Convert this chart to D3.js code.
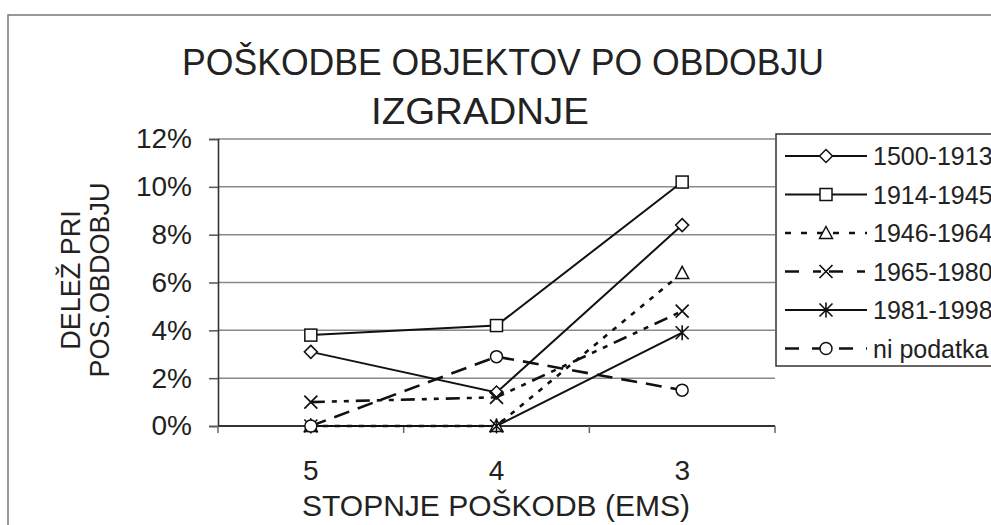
<!DOCTYPE html>
<html>
<head>
<meta charset="utf-8">
<script src="https://cdn.jsdelivr.net/npm/d3@7"></script>
<style>
  html, body { margin: 0; padding: 0; background: #fff; }
  svg { display: block; }
  text { font-family: "Liberation Sans", Arial, sans-serif; fill: #222; }
</style>
</head>
<body>
<svg id="chart" width="991" height="525"></svg>
<script>
// Damage grades (EMS) on the x axis
const categories = ["5", "4", "3"];

// Share of buildings per construction period, in percent
const s1500_1913 = [3.1, 1.4, 8.4];
const s1914_1945 = [3.8, 4.2, 10.2];
const s1946_1964 = [0, 0, 6.4];
const s1965_1980 = [1.0, 1.2, 4.8];
const s1981_1998 = [0, 0, 3.9];
const sNiPodatka = [0, 2.9, 1.5];

const seriesNames = ["1500-1913", "1914-1945", "1946-1964", "1965-1980", "1981-1998", "ni podatka"];
const yTicks = [0, 2, 4, 6, 8, 10, 12];

const titleLines = ["POŠKODBE OBJEKTOV PO OBDOBJU", "IZGRADNJE"];
const yTitleLines = ["DELEŽ PRI", "POS.OBDOBJU"];
const xTitle = "STOPNJE POŠKODB (EMS)";

const seriesValues = [s1500_1913, s1914_1945, s1946_1964, s1965_1980, s1981_1998, sNiPodatka];
const styles = [
  { dash: null, legendDash: null, marker: "diamond" },
  { dash: null, legendDash: null, marker: "square" },
  { dash: "5,7", legendDash: "6,10", marker: "triangle" },
  { dash: "14,7,5,7,5,7", legendDash: "14,14,8,8", marker: "cross" },
  { dash: null, legendDash: null, marker: "asterisk" },
  { dash: "16,9", legendDash: "14,13", marker: "circle" }
];
const series = seriesNames.map((name, i) => ({ name, values: seriesValues[i], ...styles[i] }));

const svg = d3.select("#chart");

// outer chart frame
svg.append("rect")
  .attr("x", 8).attr("y", 15).attr("width", 1100).attr("height", 600)
  .attr("fill", "none").attr("stroke", "#777").attr("stroke-width", 1.5);

const plot = { left: 218, right: 775, top: 139, bottom: 426 };

const x = d3.scalePoint().domain(categories).range([plot.left, plot.right]).padding(0.5);
const xBand = d3.scaleBand().domain(categories).range([plot.left, plot.right]);
const y = d3.scaleLinear().domain([0, 12]).range([plot.bottom, plot.top]);

// horizontal gridlines
svg.append("g").selectAll("line")
  .data(yTicks.filter(t => t > 0))
  .join("line")
  .attr("x1", plot.left).attr("x2", plot.right)
  .attr("y1", d => y(d)).attr("y2", d => y(d))
  .attr("stroke", "#8a8a8a").attr("stroke-width", 1.5);

// y axis
const yAxis = svg.append("g")
  .attr("transform", `translate(${plot.left},0)`)
  .call(d3.axisLeft(y).tickValues(yTicks).tickFormat(d => d + "%").tickSize(9).tickPadding(17));
yAxis.select(".domain").attr("stroke", "#333").attr("stroke-width", 1.6);
yAxis.selectAll(".tick line").attr("stroke", "#555").attr("stroke-width", 1.5);
yAxis.selectAll(".tick text")
  .attr("font-size", 28).attr("fill", "#222")
  .attr("font-family", "'Liberation Sans', Arial, sans-serif");

// x axis: tick marks at band boundaries, labels at category centres
const xAxisG = svg.append("g");
xAxisG.append("line")
  .attr("x1", plot.left).attr("x2", plot.right)
  .attr("y1", plot.bottom).attr("y2", plot.bottom)
  .attr("stroke", "#333").attr("stroke-width", 2);
const boundaries = categories.map(c => xBand(c)).concat([xBand.range()[1]]);
xAxisG.selectAll("line.tk")
  .data(boundaries)
  .join("line").attr("class", "tk")
  .attr("x1", d => d).attr("x2", d => d)
  .attr("y1", plot.bottom).attr("y2", plot.bottom + 7)
  .attr("stroke", "#666").attr("stroke-width", 1.5);
xAxisG.selectAll("text")
  .data(categories)
  .join("text")
  .attr("x", d => x(d)).attr("y", 480)
  .attr("text-anchor", "middle").attr("font-size", 28)
  .text(d => d);

// titles
svg.append("text").attr("x", 503).attr("y", 75).attr("text-anchor", "middle")
  .attr("font-size", 36).attr("textLength", 642).attr("lengthAdjust", "spacingAndGlyphs")
  .text(titleLines[0]);
svg.append("text").attr("x", 480).attr("y", 124).attr("text-anchor", "middle")
  .attr("font-size", 36).attr("textLength", 218).attr("lengthAdjust", "spacingAndGlyphs")
  .text(titleLines[1]);

svg.append("text").attr("x", 496).attr("y", 516).attr("text-anchor", "middle")
  .attr("font-size", 30).text(xTitle);

[[yTitleLines[0], 80], [yTitleLines[1], 109]].forEach(([t, cx]) => {
  svg.append("text")
    .attr("transform", `translate(${cx},280) rotate(-90)`)
    .attr("text-anchor", "middle").attr("font-size", 27).text(t);
});

// marker shapes
function drawMarker(g, type, cx, cy) {
  const st = { fill: "#fff", stroke: "#111", "stroke-width": 1.5 };
  const apply = sel => { Object.entries(st).forEach(([k, v]) => sel.attr(k, v)); return sel; };
  if (type === "diamond") {
    apply(g.append("path").attr("d", `M${cx},${cy - 6.5}L${cx + 6.5},${cy}L${cx},${cy + 6.5}L${cx - 6.5},${cy}Z`));
  } else if (type === "square") {
    apply(g.append("rect").attr("x", cx - 6).attr("y", cy - 6).attr("width", 12).attr("height", 12));
  } else if (type === "triangle") {
    apply(g.append("path").attr("d", `M${cx},${cy - 6.5}L${cx + 6.5},${cy + 5.5}L${cx - 6.5},${cy + 5.5}Z`));
  } else if (type === "circle") {
    apply(g.append("circle").attr("cx", cx).attr("cy", cy).attr("r", 6));
  } else if (type === "cross") {
    g.append("path").attr("d", `M${cx - 6.5},${cy - 6.5}L${cx + 6.5},${cy + 6.5}M${cx - 6.5},${cy + 6.5}L${cx + 6.5},${cy - 6.5}`)
      .attr("stroke", "#111").attr("stroke-width", 1.7).attr("fill", "none");
  } else if (type === "asterisk") {
    g.append("path").attr("d", `M${cx - 6.5},${cy - 6.5}L${cx + 6.5},${cy + 6.5}M${cx - 6.5},${cy + 6.5}L${cx + 6.5},${cy - 6.5}M${cx},${cy - 7.5}L${cx},${cy + 7.5}`)
      .attr("stroke", "#111").attr("stroke-width", 1.6).attr("fill", "none");
  }
}

const line = d3.line().x((d, i) => x(categories[i])).y(d => y(d));

const linesG = svg.append("g");
series.forEach(s => {
  linesG.append("path")
    .datum(s.values)
    .attr("d", line)
    .attr("fill", "none").attr("stroke", "#111")
    .attr("stroke-width", s.dash ? 2.6 : 2)
    .attr("stroke-dasharray", s.dash);
});
series.forEach(s => {
  const g = linesG.append("g");
  s.values.forEach((v, i) => drawMarker(g, s.marker, x(categories[i]), y(v)));
});

// legend
const legend = svg.append("g");
legend.append("rect")
  .attr("x", 776).attr("y", 134).attr("width", 300).attr("height", 232)
  .attr("fill", "#fff").attr("stroke", "#333").attr("stroke-width", 1.5);
series.forEach((s, i) => {
  const ly = 156 + i * 38.5;
  const g = legend.append("g");
  g.append("line").attr("x1", 785).attr("x2", 867).attr("y1", ly).attr("y2", ly)
    .attr("stroke", "#111").attr("stroke-width", s.legendDash ? 2.6 : 2)
    .attr("stroke-dasharray", s.legendDash);
  drawMarker(g, s.marker, 826, ly);
  g.append("text").attr("x", 873).attr("y", ly + 9).attr("font-size", 25).text(s.name);
});
</script>
</body>
</html>
